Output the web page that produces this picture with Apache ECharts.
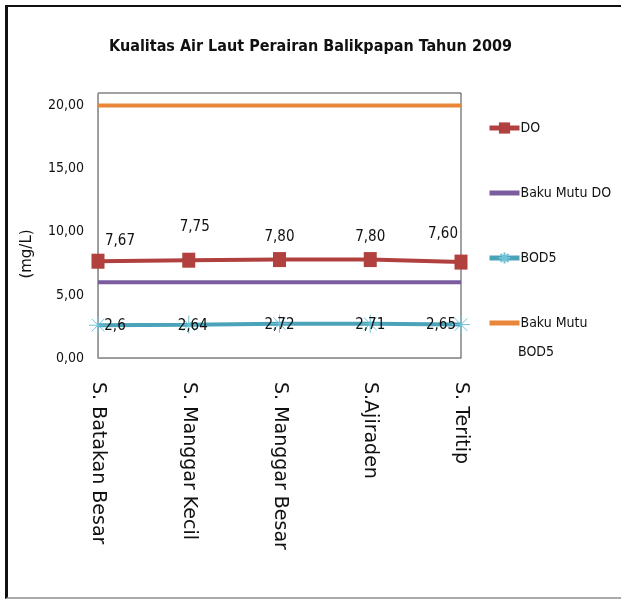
<!DOCTYPE html>
<html>
<head>
<meta charset="utf-8">
<script src="https://cdn.jsdelivr.net/npm/echarts@6/dist/echarts.min.js"></script>
<style>
  html, body { margin: 0; padding: 0; background: #fff; overflow: hidden; }
  #frame { position: absolute; left: 5px; top: 5px; width: 616px; height: 594px; border-left: 3px solid #111; border-top: 2px solid #111; border-bottom: 2px solid #aaa; box-sizing: border-box; }
  #chart { position: absolute; left: 0; top: 0; width: 621px; height: 599px; }
</style>
</head>
<body>
<div id="frame"></div>
<div id="chart"></div>
<script>
const categories = ['S. Batakan Besar', 'S. Manggar Kecil', 'S. Manggar Besar', 'S.Ajiraden', 'S. Teritip']
const doValues = [7.67, 7.75, 7.80, 7.80, 7.60]
const bakuMutuDO = [6, 6, 6, 6, 6]
const bod5Values = [2.6, 2.64, 2.72, 2.71, 2.65]
const bakuMutuBOD5 = [20, 20, 20, 20, 20]
const yTicks = [0, 5, 10, 15, 20]

const font = "'Liberation Sans Narrow', 'DejaVu Sans Condensed'"
const comma = (v, digits) => v.toFixed(digits).replace('.', ',')

// label placement per point, mostly centred, edge points pushed inward
const doLabelPos = [[22, -20], [6, -33], [0, -22], [0, -22], [-18, -28]]
const bodLabelPos = [[17, 1], [4, 1], [0, 1], [0, 1], [-20, 1]]

const chart = echarts.init(document.getElementById('chart'))

const asterisk = 'path://M0,5 L10,5 M5,0 L5,10 M1.5,1.5 L8.5,8.5 M8.5,1.5 L1.5,8.5'
const bar = 'path://M0,0 L30,0 L30,5 L0,5 Z'

chart.setOption({
  backgroundColor: 'transparent',
  animation: false,
  title: {
    text: 'Kualitas Air Laut Perairan Balikpapan Tahun 2009',
    left: 'center',
    top: 34,
    textStyle: { fontFamily: font, fontWeight: 'bold', fontSize: 16, color: '#111' }
  },
  grid: { left: 98, right: 160, top: 93, bottom: 241, show: true, borderColor: '#444', borderWidth: 1 },
  legend: {
    orient: 'vertical',
    left: 487,
    top: 121,
    padding: 0,
    itemWidth: 30,
    itemHeight: 14,
    itemGap: 51,
    lineStyle: { width: 5 },
    textStyle: { fontFamily: font, fontSize: 14, color: '#111', padding: [0, 0, 0, -4] },
    formatter: n => n === 'Baku Mutu BOD5' ? 'Baku Mutu' : n,
    data: [
      'DO',
      { name: 'Baku Mutu DO', icon: bar },
      'BOD5',
      { name: 'Baku Mutu BOD5', icon: bar }
    ]
  },
  graphic: [
    {
      type: 'text', left: 518, top: 345,
      style: { text: 'BOD5', font: "14px 'Liberation Sans Narrow', 'DejaVu Sans Condensed'", fill: '#111' }
    },
    {
      type: 'text', x: 27, y: 254, rotation: Math.PI / 2,
      style: { text: '(mg/L)', font: '15px "DejaVu Sans"', fill: '#111', align: 'center', verticalAlign: 'middle' }
    }
  ],
  xAxis: {
    type: 'category',
    data: categories,
    boundaryGap: false,
    axisLine: { lineStyle: { color: '#999' } },
    axisTick: { show: false },
    axisLabel: { rotate: -90, margin: 24, color: '#111', fontFamily: 'DejaVu Sans', fontSize: 19 }
  },
  yAxis: {
    type: 'value',
    min: 0,
    max: 21,
    interval: 5,
    axisLine: { show: true, lineStyle: { color: '#999' } },
    axisTick: { show: false },
    splitLine: { show: false },
    axisLabel: {
      margin: 14,
      color: '#111',
      fontFamily: font,
      fontSize: 14,
      formatter: v => yTicks.includes(v) ? comma(v, 2) : ''
    }
  },
  series: [
    {
      name: 'DO',
      type: 'line',
      data: doValues.map((v, i) => ({
        value: v,
        label: { offset: doLabelPos[i] }
      })),
      symbol: 'rect',
      symbolSize: [13, 15],
      lineStyle: { color: '#b0413e', width: 4 },
      itemStyle: { color: '#b0413e' },
      label: {
        show: true, position: 'inside', color: '#111', fontFamily: font, fontSize: 15,
        formatter: p => comma(p.value, 2)
      },
      z: 4
    },
    {
      name: 'Baku Mutu DO',
      type: 'line',
      data: bakuMutuDO,
      symbol: 'none',
      lineStyle: { color: '#7b5c9e', width: 4 },
      itemStyle: { color: '#7b5c9e' }
    },
    {
      name: 'BOD5',
      type: 'line',
      data: bod5Values.map((v, i) => ({
        value: v,
        label: { offset: bodLabelPos[i] }
      })),
      symbol: asterisk,
      symbolSize: 18,
      lineStyle: { color: '#4aa3b8', width: 4 },
      itemStyle: { color: '#6fc3d8', borderColor: '#6fc3d8', borderWidth: 1 },
      label: {
        show: true, position: 'inside', color: '#111', fontFamily: font, fontSize: 15,
        formatter: p => String(p.value).replace('.', ',')
      },
      z: 3
    },
    {
      name: 'Baku Mutu BOD5',
      type: 'line',
      data: bakuMutuBOD5,
      symbol: 'none',
      lineStyle: { color: '#e8873a', width: 4 },
      itemStyle: { color: '#e8873a' }
    }
  ]
})

window.addEventListener('resize', () => chart.resize())
</script>
</body>
</html>
